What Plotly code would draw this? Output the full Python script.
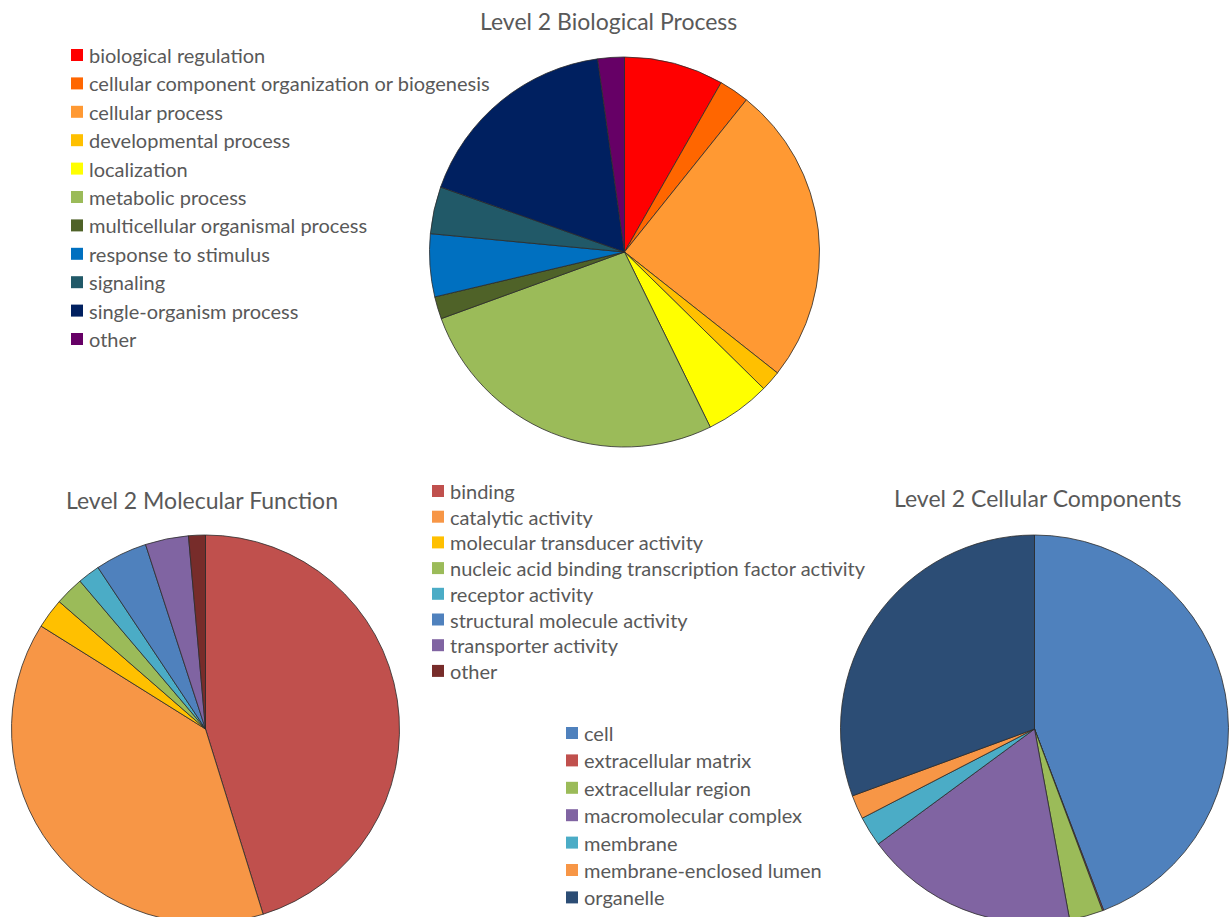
import plotly.graph_objects as go

# ---- Level 2 Biological Process ----
bp_labels = [
    "biological regulation",
    "cellular component organization or biogenesis",
    "cellular process",
    "developmental process",
    "localization",
    "metabolic process",
    "multicellular organismal process",
    "response to stimulus",
    "signaling",
    "single-organism process",
    "other",
]
bp_values = [8.25, 2.5, 24.9, 1.7, 5.4, 26.7, 1.85, 5.2, 3.9, 17.4, 2.2]
bp_colors = ["#FF0000", "#FF6600", "#FF9933", "#FFC000", "#FFFF00", "#9BBB59",
             "#4F6228", "#0070C0", "#215968", "#002060", "#660066"]

# ---- Level 2 Molecular Function ----
mf_labels = [
    "binding",
    "catalytic activity",
    "molecular transducer activity",
    "nucleic acid binding transcription factor activity",
    "receptor activity",
    "structural molecule activity",
    "transporter activity",
    "other",
]
mf_values = [45.2, 38.7, 2.5, 2.4, 1.85, 4.35, 3.6, 1.4]
mf_colors = ["#C0504D", "#F79646", "#FFC000", "#9BBB59", "#4BACC6", "#4F81BD",
             "#8064A2", "#772C2A"]

# ---- Level 2 Cellular Components ----
cc_labels = [
    "cell",
    "extracellular matrix",
    "extracellular region",
    "macromolecular complex",
    "membrane",
    "membrane-enclosed lumen",
    "organelle",
]
cc_values = [44.2, 0.1, 2.8, 17.8, 2.5, 2.0, 30.6]
cc_colors = ["#4F81BD", "#C0504D", "#9BBB59", "#8064A2", "#4BACC6", "#F79646",
             "#2C4D75"]

W, H = 1229, 925
FONT = "Lato, 'Open Sans', sans-serif"
TEXT_COLOR = "#595959"


def px_x(x):
    return x / W


def px_y(y):
    return 1 - y / H


def px_domain(cx, cy, r):
    """Pie domain in paper coordinates from a centre/radius given in pixels."""
    return dict(x=[px_x(cx - r), px_x(cx + r)], y=[px_y(cy + r), px_y(cy - r)])


def pie(labels, values, colors, dom):
    return go.Pie(
        labels=labels,
        values=values,
        marker=dict(colors=colors, line=dict(color="#2b2b2b", width=0.8)),
        sort=False,
        direction="clockwise",
        rotation=0,
        textinfo="none",
        hoverinfo="label+percent",
        domain=dom,
        showlegend=False,
    )


fig = go.Figure()
fig.add_trace(pie(bp_labels, bp_values, bp_colors, px_domain(624.5, 252, 195)))
fig.add_trace(pie(mf_labels, mf_values, mf_colors, px_domain(205.5, 729, 194)))
fig.add_trace(pie(cc_labels, cc_values, cc_colors, px_domain(1034.5, 729, 194)))

shapes = []
annotations = []


def key_block(labels, colors, left, top_center, step, size=20):
    """Colour-square key: one square + label per category, stacked downwards."""
    for i, (lab, col) in enumerate(zip(labels, colors)):
        cy = top_center + i * step
        shapes.append(dict(
            type="rect", xref="paper", yref="paper",
            x0=px_x(left), x1=px_x(left + 12),
            y0=px_y(cy + 6), y1=px_y(cy - 6),
            fillcolor=col, line=dict(width=0),
        ))
        annotations.append(dict(
            text=lab, x=px_x(left + 16), y=px_y(cy), xref="paper", yref="paper",
            xanchor="left", yanchor="middle", showarrow=False,
            font=dict(family=FONT, size=size, color=TEXT_COLOR),
        ))


key_block(bp_labels, bp_colors, 71, 55, 28.4)
key_block(mf_labels, mf_colors, 432, 491, 25.7)
key_block(cc_labels, cc_colors, 566, 733, 27.4)

titles = [
    ("Level 2 Biological Process", 608, 21),
    ("Level 2 Molecular Function", 202, 500),
    ("Level 2 Cellular Components", 1038, 498),
]
for t, x, y in titles:
    annotations.append(dict(
        text=t, x=px_x(x), y=px_y(y), xref="paper", yref="paper",
        xanchor="center", yanchor="middle", showarrow=False,
        font=dict(family=FONT, size=23, color=TEXT_COLOR),
    ))

fig.update_layout(
    width=W,
    height=H,
    margin=dict(l=0, r=0, t=0, b=0),
    paper_bgcolor="white",
    plot_bgcolor="white",
    font=dict(family=FONT, color=TEXT_COLOR),
    showlegend=False,
    shapes=shapes,
    annotations=annotations,
)

fig.write_html(
    "out.html",
    post_script="document.documentElement.style.overflow='hidden';document.body.style.overflow='hidden';",
)
